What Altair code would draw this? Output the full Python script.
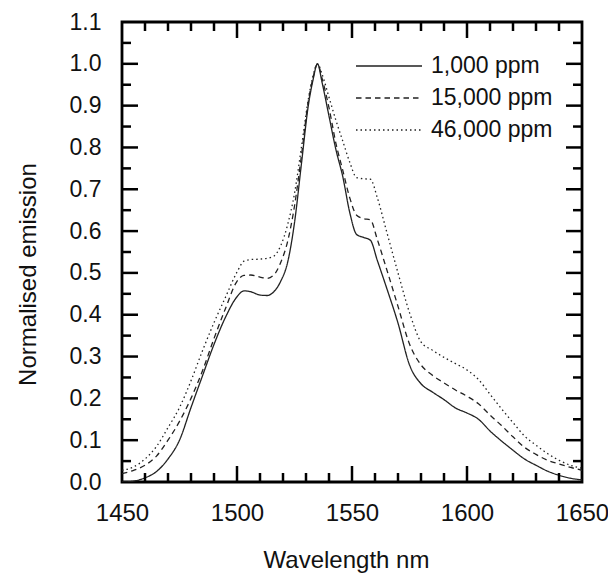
import altair as alt
import pandas as pd

# ---- data ----
wavelength = [1450, 1455, 1460, 1465, 1470, 1475, 1480, 1485, 1490, 1495,
              1500, 1503, 1506, 1510, 1513, 1516, 1519, 1522, 1525, 1528,
              1531, 1533, 1535, 1537, 1540, 1543, 1546, 1549, 1552, 1555,
              1558, 1561, 1565, 1570, 1575, 1580, 1585, 1590, 1595, 1600,
              1605, 1610, 1615, 1620, 1625, 1630, 1635, 1640, 1645, 1650]

em_1000 = [0.0, 0.002, 0.010, 0.025, 0.055, 0.100, 0.178, 0.254, 0.329, 0.394,
           0.443, 0.457, 0.455, 0.447, 0.446, 0.455, 0.480, 0.525, 0.620, 0.760,
           0.900, 0.960, 1.000, 0.955, 0.875, 0.795, 0.730, 0.645, 0.592, 0.585,
           0.578, 0.530, 0.465, 0.380, 0.280, 0.235, 0.215, 0.197, 0.177, 0.165,
           0.150, 0.122, 0.098, 0.076, 0.055, 0.040, 0.026, 0.016, 0.009, 0.005]

em_15000 = [0.020, 0.028, 0.040, 0.062, 0.100, 0.145, 0.200, 0.266, 0.343, 0.415,
            0.480, 0.494, 0.495, 0.490, 0.487, 0.495, 0.525, 0.575, 0.660, 0.780,
            0.910, 0.965, 1.000, 0.965, 0.895, 0.810, 0.745, 0.680, 0.638, 0.630,
            0.627, 0.580, 0.510, 0.420, 0.330, 0.280, 0.255, 0.237, 0.220, 0.205,
            0.187, 0.160, 0.135, 0.108, 0.083, 0.066, 0.052, 0.043, 0.035, 0.028]

em_46000 = [0.028, 0.036, 0.055, 0.085, 0.130, 0.178, 0.242, 0.314, 0.381, 0.442,
            0.502, 0.528, 0.532, 0.533, 0.535, 0.540, 0.565, 0.615, 0.690, 0.800,
            0.915, 0.970, 1.000, 0.975, 0.920, 0.865, 0.815, 0.765, 0.728, 0.725,
            0.724, 0.680, 0.600, 0.500, 0.405, 0.335, 0.315, 0.298, 0.283, 0.268,
            0.245, 0.210, 0.175, 0.142, 0.110, 0.088, 0.068, 0.052, 0.040, 0.033]

series = ["1,000 ppm", "15,000 ppm", "46,000 ppm"]

x_ticks = [1450, 1500, 1550, 1600, 1650]
x_minor = [1460, 1470, 1480, 1490, 1510, 1520, 1530, 1540,
           1560, 1570, 1580, 1590, 1610, 1620, 1630, 1640]
y_ticks = [0.0, 0.1, 0.2, 0.3, 0.4, 0.5, 0.6, 0.7, 0.8, 0.9, 1.0, 1.1]
y_minor = [0.05, 0.15, 0.25, 0.35, 0.45, 0.55, 0.65, 0.75, 0.85, 0.95, 1.05]

rows = []
for name, vals in zip(series, [em_1000, em_15000, em_46000]):
    for w, v in zip(wavelength, vals):
        rows.append({"wl": w, "em": v, "series": name})
df = pd.DataFrame(rows)

W, H = 460, 460
FONT = "Liberation Sans"
MAJ, MIN = 16, 9
TICK_W = 2.5

xscale = alt.Scale(domain=[1450, 1650], nice=False, zero=False)
yscale = alt.Scale(domain=[0, 1.1], nice=False, zero=False)

xaxis = alt.Axis(values=x_ticks, format="d", ticks=False, domain=False,
                 grid=False, labelPadding=19, labelFont=FONT,
                 labelFontSize=24, labelColor="#111", labelFlush=False,
                 labelOverlap=False,
                 titleFont=FONT, titleFontSize=24, titleFontWeight="normal",
                 titleColor="#111", titleX=224, titleY=85,
                 titleBaseline="alphabetic")
yaxis = alt.Axis(values=y_ticks, format=".1f", ticks=False, domain=False,
                 grid=False, labelPadding=21, labelFont=FONT,
                 labelFontSize=23, labelColor="#111", labelFlush=False,
                 labelOverlap=False,
                 titleFont=FONT, titleFontSize=24, titleFontWeight="normal",
                 titleColor="#111", titleX=-87, titleY=252,
                 titleAngle=-90, titleAlign="center",
                 titleBaseline="alphabetic")
XT = "Wavelength nm"
YT = "Normalised emission"

lines = alt.Chart(df).mark_line(
    clip=True, color="#222", strokeWidth=1.3, interpolate="monotone"
).encode(
    x=alt.X("wl:Q", scale=xscale, title=XT, axis=xaxis),
    y=alt.Y("em:Q", scale=yscale, title=YT, axis=yaxis),
    strokeDash=alt.StrokeDash(
        "series:N", sort=series,
        scale=alt.Scale(domain=series, range=[[1, 0], [5.5, 4], [1.5, 3]]),
        legend=alt.Legend(orient="none", legendX=233, legendY=28, title=None,
                          symbolType="stroke", symbolSize=4356,
                          symbolStrokeWidth=1.3, symbolStrokeColor="#222",
                          clipHeight=32, rowPadding=0, padding=0,
                          labelFont=FONT, labelFontSize=23, labelColor="#111",
                          labelOffset=8)),
)

def xrules(vals, length):
    d = pd.DataFrame({"wl": vals})
    base = alt.Chart(d).mark_rule(color="black", strokeWidth=TICK_W)
    xenc = alt.X("wl:Q", scale=xscale, title=XT, axis=xaxis)
    bottom = base.encode(x=xenc, y=alt.value(H), y2=alt.value(H - length))
    top = base.encode(x=xenc, y=alt.value(0), y2=alt.value(length))
    return [bottom, top]

def yrules(vals, length):
    d = pd.DataFrame({"em": vals})
    base = alt.Chart(d).mark_rule(color="black", strokeWidth=TICK_W)
    yenc = alt.Y("em:Q", scale=yscale, title=YT, axis=yaxis)
    left = base.encode(y=yenc, x=alt.value(0), x2=alt.value(length))
    right = base.encode(y=yenc, x=alt.value(W), x2=alt.value(W - length))
    return [left, right]

tick_layers = (xrules(x_ticks[1:-1], MAJ) + xrules(x_minor, MIN)
               + yrules(y_ticks[1:-1], MAJ) + yrules(y_minor, MIN))

chart = alt.layer(lines, *tick_layers).properties(
    width=W, height=H,
    background="white",
    autosize=alt.AutoSizeParams(type="none"),
    padding={"left": 122, "top": 22, "right": 26, "bottom": 92},
).configure_view(
    stroke="black", strokeWidth=2.8
)

chart.save("out.html", embed_options={"renderer": "svg", "actions": False})
